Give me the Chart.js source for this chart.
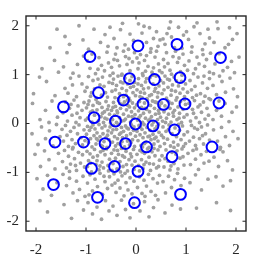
<!DOCTYPE html>
<html>
<head>
<meta charset="utf-8">
<script src="https://cdn.jsdelivr.net/npm/chart.js@4"></script>
<style>
  html, body { margin: 0; padding: 0; background: #fff; }
  #chart { display: block; }
</style>
</head>
<body>
<canvas id="chart" width="266" height="270"></canvas>
<script>
// axis ticks
const tickVals = [-2, -1, 0, 1, 2];

// blue circles
const blueX = [-0.92, 0.04, 0.82, 1.69, -0.13, 0.37, 0.88, -0.75, -1.45, -0.25, 0.14, 0.55, 0.98, 1.66,
  -0.84, -0.41, -0.01, 0.34, 0.77, -1.62, -1.05, -0.62, -0.21, 0.21, 1.52, 0.72, -0.89, -0.43, 0.04,
  -1.65, 0.89, -0.77, -0.03];
const blueY = [1.37, 1.59, 1.62, 1.35, 0.92, 0.90, 0.94, 0.63, 0.34, 0.48, 0.40, 0.39, 0.40, 0.42,
  0.12, 0.05, -0.01, -0.05, -0.13, -0.38, -0.38, -0.41, -0.41, -0.48, -0.48, -0.68, -0.92, -0.88, -0.98,
  -1.25, -1.45, -1.51, -1.62];

// gray cloud (estimated positions)
const grayPts = [
  [-1.72,1.55],[-1.58,1.93],[-1.14,2.0],[-1.33,1.62],[-1.06,1.71],[-1.42,1.78],
  [-0.84,1.93],[-0.52,1.97],[-0.71,1.66],[-0.62,1.82],[-0.95,1.52],[-0.56,1.58],
  [-0.44,1.74],[-0.31,1.92],[-0.22,1.61],[-0.12,1.83],[-0.38,1.55],[-0.05,1.70],[-0.27,2.05],[-0.15,1.52],
  [0.27,1.96],[0.12,1.85],[0.35,1.74],[0.44,1.58],[0.21,1.66],[0.05,2.04],[0.41,1.88],[0.30,1.53],[0.16,1.99],[0.48,1.71],
  [0.85,1.97],[0.62,1.84],[0.58,1.62],[0.71,1.77],[0.95,1.81],[0.66,1.95],[0.77,1.55],[0.54,1.73],[0.92,1.54],[0.69,2.08],
  [1.16,1.98],[1.05,1.72],[1.28,1.84],[1.38,1.63],[1.12,1.57],[1.44,1.93],[1.22,2.06],[1.33,1.51],[1.01,1.88],[1.47,1.75],
  [1.64,1.94],[1.87,1.96],[1.56,1.66],[1.93,1.72],[1.78,1.55],[2.02,1.84],[1.62,2.08],[1.85,1.62],

  [-1.88,1.12],[-1.63,1.29],[-1.55,1.05],
  [-1.38,1.45],[-1.17,1.21],[-1.26,1.03],[-1.05,1.38],[-1.45,1.16],
  [-0.92,1.13],[-0.74,1.35],[-0.63,1.08],[-0.88,1.42],[-0.55,1.24],[-0.81,1.02],[-0.69,1.19],[-0.97,1.28],[-0.58,1.46],[-0.76,1.11],
  [-0.46,1.03],[-0.33,1.18],[-0.21,1.37],[-0.12,1.08],[-0.41,1.42],[-0.28,1.01],[-0.07,1.26],[-0.37,1.29],[-0.18,1.21],[-0.03,1.45],[-0.49,1.15],[-0.25,1.48],[-0.14,1.33],[-0.44,1.31],
  [0.04,1.12],[0.17,1.29],[0.32,1.05],[0.45,1.22],[0.09,1.41],[0.24,1.17],[0.38,1.36],[0.13,1.02],[0.29,1.46],[0.47,1.08],[0.06,1.24],[0.21,1.39],[0.41,1.48],[0.35,1.14],[0.02,1.34],[0.19,1.07],
  [0.55,1.31],[0.68,1.09],[0.83,1.25],[0.94,1.42],[0.61,1.45],[0.74,1.37],[0.89,1.06],[0.57,1.16],[0.79,1.48],[0.97,1.19],[0.64,1.23],[0.86,1.34],[0.71,1.01],[0.52,1.04],
  [1.06,1.28],[1.19,1.12],[1.34,1.41],[1.47,1.05],[1.11,1.46],[1.26,1.22],[1.41,1.31],[1.03,1.09],[1.22,1.36],[1.37,1.17],[1.15,1.02],[1.49,1.44],
  [1.58,1.22],[1.74,1.08],[1.91,1.27],[1.66,1.43],[1.83,1.15],[2.06,1.36],[1.55,1.02],[1.97,1.04],

  [-2.05,0.61],[-1.79,0.86],[-1.62,0.57],[-1.93,0.95],
  [-1.42,0.72],[-1.31,0.93],[-1.19,0.55],[-1.08,0.81],[-1.36,0.62],[-1.14,0.97],[-1.02,0.66],[-1.27,0.79],
  [-0.98,0.74],[-0.91,0.56],[-0.86,0.88],[-0.79,0.52],[-0.72,0.79],[-0.67,0.95],[-0.61,0.63],[-0.54,0.84],[-0.95,0.96],[-0.83,0.71],[-0.57,0.54],[-0.64,0.76],[-0.89,0.63],[-0.52,0.98],[-0.76,0.91],[-0.69,0.58],
  [-0.48,0.66],[-0.45,0.91],[-0.42,0.53],[-0.39,0.78],[-0.36,0.97],[-0.33,0.61],[-0.31,0.85],[-0.28,0.72],[-0.25,0.55],[-0.22,0.93],[-0.19,0.67],[-0.17,0.81],[-0.14,0.52],[-0.11,0.74],[-0.08,0.96],[-0.06,0.63],[-0.03,0.84],[-0.01,0.57],[-0.47,0.82],[-0.41,0.69],[-0.35,0.51],[-0.29,0.99],[-0.2,0.58],[-0.12,0.88],[-0.05,0.76],[-0.26,0.83],
  [0.02,0.69],[0.05,0.92],[0.08,0.55],[0.11,0.78],[0.14,0.98],[0.17,0.62],[0.19,0.85],[0.22,0.51],[0.25,0.73],[0.28,0.94],[0.31,0.59],[0.34,0.81],[0.37,0.66],[0.4,0.97],[0.43,0.54],[0.46,0.77],[0.49,0.88],[0.04,0.81],[0.09,0.64],[0.15,0.71],[0.21,0.92],[0.27,0.57],[0.33,0.99],[0.39,0.72],[0.44,0.63],[0.12,0.53],
  [0.52,0.61],[0.55,0.83],[0.58,0.97],[0.61,0.52],[0.64,0.74],[0.67,0.89],[0.7,0.58],[0.73,0.79],[0.76,0.95],[0.79,0.66],[0.82,0.53],[0.85,0.77],[0.88,0.62],[0.91,0.86],[0.94,0.71],[0.97,0.55],[0.56,0.69],[0.63,0.91],[0.71,0.68],[0.81,0.87],[0.92,0.99],[0.99,0.81],
  [1.03,0.64],[1.08,0.88],[1.13,0.53],[1.18,0.76],[1.24,0.95],[1.29,0.61],[1.33,0.83],[1.38,0.56],[1.43,0.72],[1.47,0.92],[1.11,0.69],[1.21,0.58],[1.36,0.97],[1.46,0.51],
  [1.54,0.78],[1.61,0.59],[1.72,0.86],[1.79,0.64],[1.88,0.93],[1.95,0.71],[2.03,0.55],[1.67,0.97],

  [-2.07,0.41],[-1.92,0.08],[-1.81,0.27],[-1.68,0.46],[-1.57,0.13],[-1.74,0.02],
  [-1.46,0.22],[-1.41,0.44],[-1.37,0.05],[-1.33,0.31],[-1.28,0.17],[-1.24,0.48],[-1.2,0.02],[-1.16,0.36],[-1.12,0.12],[-1.08,0.27],[-1.04,0.43],[-1.01,0.07],[-1.3,0.39],[-1.18,0.21],
  [-0.99,0.32],[-0.97,0.11],[-0.94,0.46],[-0.91,0.23],[-0.88,0.03],[-0.86,0.37],[-0.83,0.17],[-0.8,0.49],[-0.78,0.28],[-0.75,0.06],[-0.73,0.41],[-0.7,0.14],[-0.68,0.33],[-0.65,0.02],[-0.63,0.24],[-0.6,0.45],[-0.58,0.09],[-0.55,0.36],[-0.53,0.19],[-0.51,0.01],[-0.96,0.39],[-0.87,0.26],[-0.77,0.43],[-0.67,0.21],[-0.57,0.29],[-0.62,0.11],
  [-0.49,0.27],[-0.47,0.08],[-0.45,0.43],[-0.43,0.17],[-0.41,0.35],[-0.39,0.02],[-0.37,0.22],[-0.35,0.47],[-0.33,0.12],[-0.31,0.31],[-0.29,0.05],[-0.27,0.39],[-0.25,0.19],[-0.23,0.44],[-0.21,0.09],[-0.19,0.28],[-0.17,0.48],[-0.15,0.15],[-0.13,0.34],[-0.11,0.03],[-0.09,0.24],[-0.07,0.42],[-0.05,0.11],[-0.03,0.32],[-0.02,0.18],[-0.46,0.33],[-0.38,0.26],[-0.32,0.41],[-0.24,0.06],[-0.16,0.37],[-0.08,0.14],[-0.12,0.47],
  [0.01,0.38],[0.03,0.07],[0.05,0.26],[0.07,0.45],[0.09,0.16],[0.11,0.33],[0.13,0.02],[0.15,0.21],[0.17,0.42],[0.19,0.11],[0.21,0.29],[0.23,0.48],[0.25,0.06],[0.27,0.24],[0.29,0.37],[0.31,0.14],[0.33,0.46],[0.35,0.03],[0.37,0.31],[0.39,0.19],[0.41,0.43],[0.43,0.08],[0.45,0.27],[0.47,0.36],[0.49,0.13],[0.06,0.12],[0.18,0.31],[0.28,0.09],[0.38,0.44],[0.46,0.21],
  [0.51,0.42],[0.53,0.05],[0.56,0.24],[0.58,0.36],[0.61,0.11],[0.63,0.47],[0.65,0.19],[0.68,0.31],[0.7,0.03],[0.72,0.41],[0.75,0.15],[0.77,0.27],[0.8,0.48],[0.82,0.08],[0.84,0.34],[0.87,0.21],[0.89,0.45],[0.91,0.02],[0.94,0.29],[0.96,0.13],[0.99,0.39],[0.59,0.02],[0.66,0.44],[0.74,0.22],[0.86,0.11],[0.97,0.49],
  [1.02,0.18],[1.06,0.41],[1.09,0.05],[1.13,0.29],[1.17,0.47],[1.2,0.12],[1.24,0.34],[1.27,0.02],[1.31,0.23],[1.35,0.44],[1.38,0.09],[1.42,0.31],[1.45,0.17],[1.49,0.49],[1.15,0.21],[1.28,0.38],
  [1.54,0.08],[1.61,0.27],[1.71,0.15],[1.78,0.41],[1.86,0.04],[1.92,0.23],[2.01,0.34],[1.66,0.46],

  [-2.08,-0.21],[-1.96,-0.43],[-1.89,-0.07],[-1.81,-0.31],[-1.73,-0.15],[-1.66,-0.46],[-1.59,-0.02],[-1.52,-0.27],
  [-1.48,-0.12],[-1.45,-0.36],[-1.41,-0.04],[-1.38,-0.24],[-1.35,-0.47],[-1.31,-0.16],[-1.28,-0.33],[-1.24,-0.08],[-1.21,-0.41],[-1.17,-0.21],[-1.14,-0.03],[-1.1,-0.29],[-1.07,-0.44],[-1.04,-0.13],[-1.02,-0.35],[-1.26,-0.49],
  [-0.99,-0.22],[-0.97,-0.06],[-0.95,-0.39],[-0.93,-0.14],[-0.91,-0.31],[-0.88,-0.48],[-0.86,-0.03],[-0.84,-0.25],[-0.82,-0.11],[-0.8,-0.42],[-0.78,-0.19],[-0.76,-0.34],[-0.74,-0.02],[-0.72,-0.27],[-0.7,-0.45],[-0.68,-0.09],[-0.66,-0.21],[-0.64,-0.37],[-0.62,-0.05],[-0.6,-0.29],[-0.58,-0.49],[-0.56,-0.15],[-0.54,-0.33],[-0.52,-0.07],[-0.9,-0.08],[-0.79,-0.31],[-0.67,-0.47],[-0.57,-0.24],
  [-0.49,-0.19],[-0.47,-0.38],[-0.45,-0.04],[-0.43,-0.27],[-0.41,-0.46],[-0.39,-0.12],[-0.37,-0.31],[-0.35,-0.02],[-0.33,-0.22],[-0.31,-0.43],[-0.29,-0.08],[-0.27,-0.29],[-0.25,-0.16],[-0.23,-0.48],[-0.21,-0.05],[-0.19,-0.25],[-0.17,-0.36],[-0.15,-0.11],[-0.13,-0.44],[-0.11,-0.21],[-0.09,-0.03],[-0.07,-0.33],[-0.05,-0.14],[-0.03,-0.47],[-0.01,-0.26],[-0.46,-0.13],[-0.36,-0.41],[-0.28,-0.37],[-0.18,-0.09],[-0.1,-0.39],[-0.04,-0.07],[-0.3,-0.19],
  [0.02,-0.16],[0.04,-0.35],[0.06,-0.04],[0.08,-0.23],[0.1,-0.45],[0.12,-0.12],[0.14,-0.29],[0.16,-0.02],[0.18,-0.19],[0.2,-0.38],[0.22,-0.08],[0.24,-0.27],[0.26,-0.49],[0.28,-0.14],[0.3,-0.33],[0.32,-0.03],[0.34,-0.22],[0.36,-0.42],[0.38,-0.11],[0.4,-0.28],[0.42,-0.06],[0.44,-0.36],[0.46,-0.18],[0.48,-0.47],[0.09,-0.07],[0.17,-0.41],[0.27,-0.26],[0.37,-0.31],[0.45,-0.01],[0.13,-0.48],
  [0.51,-0.24],[0.54,-0.07],[0.57,-0.41],[0.6,-0.16],[0.63,-0.32],[0.66,-0.03],[0.69,-0.46],[0.72,-0.21],[0.75,-0.38],[0.78,-0.09],[0.81,-0.27],[0.84,-0.44],[0.87,-0.14],[0.9,-0.33],[0.93,-0.05],[0.96,-0.23],[0.99,-0.41],[0.55,-0.29],[0.65,-0.12],[0.76,-0.49],[0.85,-0.02],[0.95,-0.47],
  [1.03,-0.17],[1.07,-0.36],[1.11,-0.04],[1.15,-0.28],[1.19,-0.45],[1.23,-0.12],[1.27,-0.31],[1.31,-0.07],[1.35,-0.42],[1.39,-0.21],[1.43,-0.03],[1.47,-0.34],[1.17,-0.09],[1.33,-0.25],
  [1.55,-0.13],[1.63,-0.36],[1.71,-0.08],[1.79,-0.27],[1.87,-0.45],[1.94,-0.16],[2.04,-0.31],[1.69,-0.49],

  [-2.02,-0.63],[-1.91,-0.88],[-1.83,-0.56],[-1.74,-0.74],[-1.62,-0.93],[-1.55,-0.61],
  [-1.47,-0.78],[-1.43,-0.55],[-1.39,-0.91],[-1.35,-0.67],[-1.31,-0.83],[-1.27,-0.52],[-1.23,-0.72],[-1.19,-0.96],[-1.15,-0.59],[-1.11,-0.81],[-1.07,-0.64],[-1.03,-0.89],[-1.33,-0.98],[-1.21,-0.86],
  [-0.98,-0.57],[-0.95,-0.76],[-0.92,-0.62],[-0.89,-0.99],[-0.86,-0.69],[-0.83,-0.53],[-0.8,-0.84],[-0.77,-0.66],[-0.74,-0.95],[-0.71,-0.58],[-0.68,-0.79],[-0.65,-0.91],[-0.62,-0.64],[-0.59,-0.52],[-0.56,-0.86],[-0.53,-0.73],[-0.97,-0.88],[-0.91,-0.81],[-0.78,-0.76],[-0.66,-0.55],[-0.55,-0.97],[-0.72,-0.87],
  [-0.49,-0.61],[-0.46,-0.82],[-0.44,-0.54],[-0.41,-0.71],[-0.38,-0.93],[-0.35,-0.63],[-0.32,-0.78],[-0.29,-0.51],[-0.26,-0.88],[-0.23,-0.69],[-0.2,-0.57],[-0.17,-0.97],[-0.14,-0.74],[-0.11,-0.62],[-0.08,-0.85],[-0.05,-0.53],[-0.02,-0.77],[-0.48,-0.96],[-0.37,-0.55],[-0.27,-0.66],[-0.19,-0.84],[-0.09,-0.68],[-0.04,-0.94],[-0.31,-0.99],
  [0.02,-0.63],[0.05,-0.86],[0.08,-0.55],[0.11,-0.74],[0.14,-0.92],[0.17,-0.61],[0.2,-0.79],[0.23,-0.52],[0.26,-0.69],[0.29,-0.96],[0.32,-0.58],[0.35,-0.83],[0.38,-0.66],[0.41,-0.91],[0.44,-0.54],[0.47,-0.75],[0.07,-0.97],[0.16,-0.84],[0.27,-0.82],[0.36,-0.51],[0.45,-0.88],[0.12,-0.58],
  [0.52,-0.66],[0.56,-0.89],[0.6,-0.54],[0.64,-0.77],[0.68,-0.95],[0.72,-0.59],[0.76,-0.82],[0.8,-0.63],[0.84,-0.93],[0.88,-0.71],[0.92,-0.52],[0.96,-0.85],[0.58,-0.72],[0.7,-0.87],[0.82,-0.56],[0.94,-0.68],
  [1.04,-0.61],[1.09,-0.84],[1.14,-0.55],[1.19,-0.73],[1.25,-0.94],[1.3,-0.64],[1.36,-0.81],[1.41,-0.57],[1.46,-0.77],[1.21,-0.52],
  [1.56,-0.69],[1.65,-0.88],[1.74,-0.58],[1.83,-0.76],[1.93,-0.95],[1.68,-0.53],

  [-1.98,-1.13],[-1.86,-1.34],[-1.77,-1.06],[-1.69,-1.47],[-1.58,-1.21],
  [-1.46,-1.04],[-1.39,-1.27],[-1.33,-1.12],[-1.26,-1.42],[-1.19,-1.18],[-1.13,-1.35],[-1.06,-1.08],[-1.02,-1.49],
  [-0.97,-1.22],[-0.92,-1.05],[-0.87,-1.38],[-0.82,-1.14],[-0.77,-1.29],[-0.72,-1.02],[-0.67,-1.45],[-0.62,-1.19],[-0.57,-1.33],[-0.53,-1.09],[-0.94,-1.46],[-0.64,-1.08],
  [-0.48,-1.26],[-0.44,-1.03],[-0.4,-1.41],[-0.36,-1.16],[-0.32,-1.32],[-0.28,-1.07],[-0.24,-1.48],[-0.2,-1.21],[-0.16,-1.36],[-0.12,-1.11],[-0.08,-1.44],[-0.04,-1.18],[-0.42,-1.22],[-0.22,-1.02],
  [0.03,-1.31],[0.07,-1.09],[0.12,-1.43],[0.16,-1.16],[0.21,-1.28],[0.25,-1.04],[0.3,-1.39],[0.34,-1.13],[0.39,-1.47],[0.43,-1.22],[0.47,-1.06],[0.18,-1.49],
  [0.54,-1.19],[0.59,-1.42],[0.65,-1.08],[0.71,-1.31],[0.77,-1.15],[0.83,-1.02],[0.9,-1.27],[0.97,-1.12],
  [1.08,-1.21],[1.19,-1.05],[1.31,-1.36],[1.44,-1.14],
  [1.6,-1.09],[1.74,-1.28],[1.89,-1.17],

  [-1.92,-1.58],[-1.77,-1.81],
  [-1.44,-1.66],[-1.29,-1.94],[-1.17,-1.58],[-1.05,-1.77],
  [-0.96,-1.62],[-0.87,-1.85],[-0.78,-1.71],[-0.69,-1.96],[-0.61,-1.58],[-0.54,-1.79],
  [-0.46,-1.69],[-0.38,-1.88],[-0.29,-1.57],[-0.21,-1.76],[-0.12,-1.93],[-0.05,-1.64],
  [0.08,-1.79],[0.17,-1.6],[0.26,-1.91],[0.35,-1.72],[0.44,-1.56],
  [0.58,-1.83],[0.72,-1.67],[0.89,-1.75],
  [1.21,-1.73],
  [1.61,-1.62],[1.89,-1.78]
];

const axisColor = '#262626';

// box frame + inward tick marks on all four sides
const framePlugin = {
    id: 'frame',
    afterDraw(chart) {
        const { ctx, chartArea: a, scales } = chart;
        const len = 3.5;
        ctx.save();
        ctx.strokeStyle = axisColor;
        ctx.lineWidth = 1;
        ctx.beginPath();
        tickVals.forEach(v => {
            const px = scales.x.getPixelForValue(v);
            ctx.moveTo(px, a.bottom); ctx.lineTo(px, a.bottom - len);
            ctx.moveTo(px, a.top); ctx.lineTo(px, a.top + len);
            const py = scales.y.getPixelForValue(v);
            ctx.moveTo(a.left, py); ctx.lineTo(a.left + len, py);
            ctx.moveTo(a.right, py); ctx.lineTo(a.right - len, py);
        });
        ctx.stroke();
        ctx.lineWidth = 1.4;
        ctx.strokeRect(a.left, a.top, a.right - a.left, a.bottom - a.top);
        ctx.restore();
    }
};

const tickFont = { family: '"Liberation Serif", "Times New Roman", serif', size: 15 };

new Chart(document.getElementById('chart'), {
    type: 'scatter',
    data: {
        datasets: [{
            // dataset 0 is drawn last -> on top
            data: blueX.map((x, i) => ({ x: x, y: blueY[i] })),
            pointRadius: 5.4,
            pointBorderWidth: 2,
            pointBorderColor: '#0000ff',
            pointBackgroundColor: 'rgba(0,0,0,0)'
        }, {
            data: grayPts.map(p => ({ x: p[0], y: p[1] })),
            pointRadius: 1.9,
            pointBorderWidth: 0,
            pointBackgroundColor: '#a0a0a0',
            pointBorderColor: '#a0a0a0'
        }]
    },
    options: {
        responsive: false,
        animation: false,
        layout: { padding: { top: 13, right: 20, left: 0, bottom: 0 } },
        plugins: {
            legend: { display: false },
            tooltip: { enabled: false }
        },
        scales: {
            x: {
                type: 'linear',
                min: -2.2,
                max: 2.2,
                afterBuildTicks: s => { s.ticks = tickVals.map(v => ({ value: v })); },
                afterFit: s => { s.height = 39; },
                grid: { display: false, drawTicks: false },
                border: { display: false },
                ticks: { color: axisColor, font: tickFont, padding: 10, maxRotation: 0 }
            },
            y: {
                type: 'linear',
                min: -2.2,
                max: 2.2,
                afterBuildTicks: s => { s.ticks = tickVals.map(v => ({ value: v })); },
                afterFit: s => { s.width = 26; },
                grid: { display: false, drawTicks: false },
                border: { display: false },
                ticks: { color: axisColor, font: tickFont, padding: 7 }
            }
        }
    },
    plugins: [framePlugin]
});
</script>
</body>
</html>
